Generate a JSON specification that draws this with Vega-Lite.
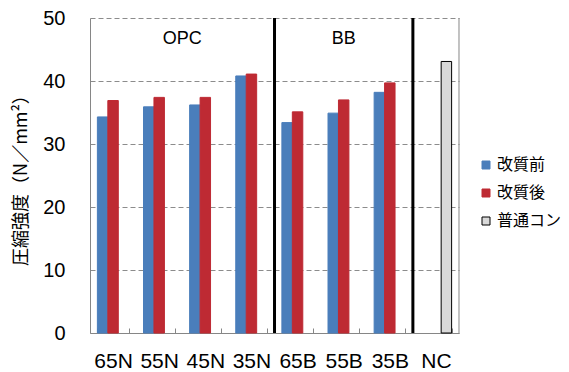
{
  "$schema": "https://vega.github.io/schema/vega-lite/v6.json",
  "width": 369,
  "height": 315,
  "autosize": {"type": "none"},
  "padding": {"left": 90, "top": 18, "right": 110, "bottom": 39},
  "background": "white",
  "config": {
    "view": {"stroke": null},
    "font": "Liberation Sans",
    "axis": {"labelColor": "black", "titleColor": "black", "domainColor": "#868686", "tickColor": "#868686"}
  },
  "datasets": {
    "bars": [
      {"cat": "65N", "series": "改質前", "value": 34.3},
      {"cat": "65N", "series": "改質後", "value": 36.9},
      {"cat": "55N", "series": "改質前", "value": 35.9},
      {"cat": "55N", "series": "改質後", "value": 37.4},
      {"cat": "45N", "series": "改質前", "value": 36.2},
      {"cat": "45N", "series": "改質後", "value": 37.4},
      {"cat": "35N", "series": "改質前", "value": 40.8},
      {"cat": "35N", "series": "改質後", "value": 41.1},
      {"cat": "65B", "series": "改質前", "value": 33.4},
      {"cat": "65B", "series": "改質後", "value": 35.1},
      {"cat": "55B", "series": "改質前", "value": 34.9},
      {"cat": "55B", "series": "改質後", "value": 37.0},
      {"cat": "35B", "series": "改質前", "value": 38.2},
      {"cat": "35B", "series": "改質後", "value": 39.7},
      {"cat": "NC", "series": "普通コン", "value": 43.1}
    ],
    "seps": [{"cat": "65B"}, {"cat": "NC"}],
    "edge": [{"cat": "NC"}],
    "opc": [{"cat": "45N", "label": "OPC"}],
    "bb": [{"cat": "55B", "label": "BB"}]
  },
  "layer": [
    {
      "data": {"name": "bars"},
      "mark": {"type": "bar", "strokeWidth": 1},
      "encoding": {
        "x": {
          "field": "cat", "type": "nominal",
          "scale": {"domain": ["65N", "55N", "45N", "35N", "65B", "55B", "35B", "NC"], "paddingInner": 0.32, "paddingOuter": 0.16},
          "axis": {"title": null, "labelAngle": 0, "labelFontSize": 21, "labelFont": "Liberation Sans", "labelBaseline": "alphabetic", "labelPadding": 39, "tickBand": "extent", "tickSize": -5, "grid": false}
        },
        "xOffset": {
          "field": "series", "type": "nominal",
          "scale": {"domain": ["改質前", "改質後", "普通コン"], "paddingInner": 0, "paddingOuter": 0}
        },
        "y": {
          "field": "value", "type": "quantitative",
          "scale": {"domain": [0, 50], "nice": false},
          "axis": {"title": "圧縮強度（N／mm²）", "titleFont": "Noto Sans CJK JP", "titleFontSize": 18, "titleFontWeight": "normal", "titlePadding": 12, "values": [0, 10, 20, 30, 40, 50], "ticks": false, "labelFontSize": 20, "labelPadding": 25, "grid": true, "gridColor": "#8c8c8c", "gridDash": [5, 3], "gridWidth": 1}
        },
        "fill": {
          "field": "series", "type": "nominal",
          "scale": {"domain": ["改質前", "改質後", "普通コン"], "range": ["#4A7EBB", "#BE2A33", "#D9D9D9"]},
          "legend": {"title": null, "orient": "none", "legendX": 388, "legendY": 139, "symbolType": "square", "symbolSize": 64, "labelFont": "Noto Sans CJK JP", "labelFontSize": 16, "labelColor": "black", "labelOffset": 3, "rowPadding": 12, "symbolStrokeWidth": 1}
        },
        "stroke": {
          "field": "series", "type": "nominal",
          "scale": {"domain": ["改質前", "改質後", "普通コン"], "range": ["#4A7EBB", "#BE2A33", "#000000"]},
          "legend": {"title": null, "orient": "none", "legendX": 388, "legendY": 139, "symbolType": "square", "symbolSize": 64, "labelFont": "Noto Sans CJK JP", "labelFontSize": 16, "labelColor": "black", "labelOffset": 3, "rowPadding": 12, "symbolStrokeWidth": 1}
        }
      }
    },
    {
      "data": {"name": "seps"},
      "mark": {"type": "rule", "color": "black", "strokeWidth": 3},
      "encoding": {
        "x": {"field": "cat", "type": "nominal", "bandPosition": -0.235},
        "y": {"datum": 0},
        "y2": {"datum": 50}
      }
    },
    {
      "data": {"name": "edge"},
      "mark": {"type": "rule", "color": "#868686", "strokeWidth": 1},
      "encoding": {
        "x": {"field": "cat", "type": "nominal", "bandPosition": 1.235},
        "y": {"datum": 0},
        "y2": {"datum": 50}
      }
    },
    {
      "data": {"name": "opc"},
      "mark": {"type": "text", "fontSize": 18, "font": "Liberation Sans", "color": "black", "baseline": "middle"},
      "encoding": {
        "x": {"field": "cat", "type": "nominal", "bandPosition": -0.235},
        "y": {"datum": 46.6},
        "text": {"field": "label"}
      }
    },
    {
      "data": {"name": "bb"},
      "mark": {"type": "text", "fontSize": 18, "font": "Liberation Sans", "color": "black", "baseline": "middle"},
      "encoding": {
        "x": {"field": "cat", "type": "nominal", "bandPosition": 0.5},
        "y": {"datum": 46.6},
        "text": {"field": "label"}
      }
    }
  ]
}
